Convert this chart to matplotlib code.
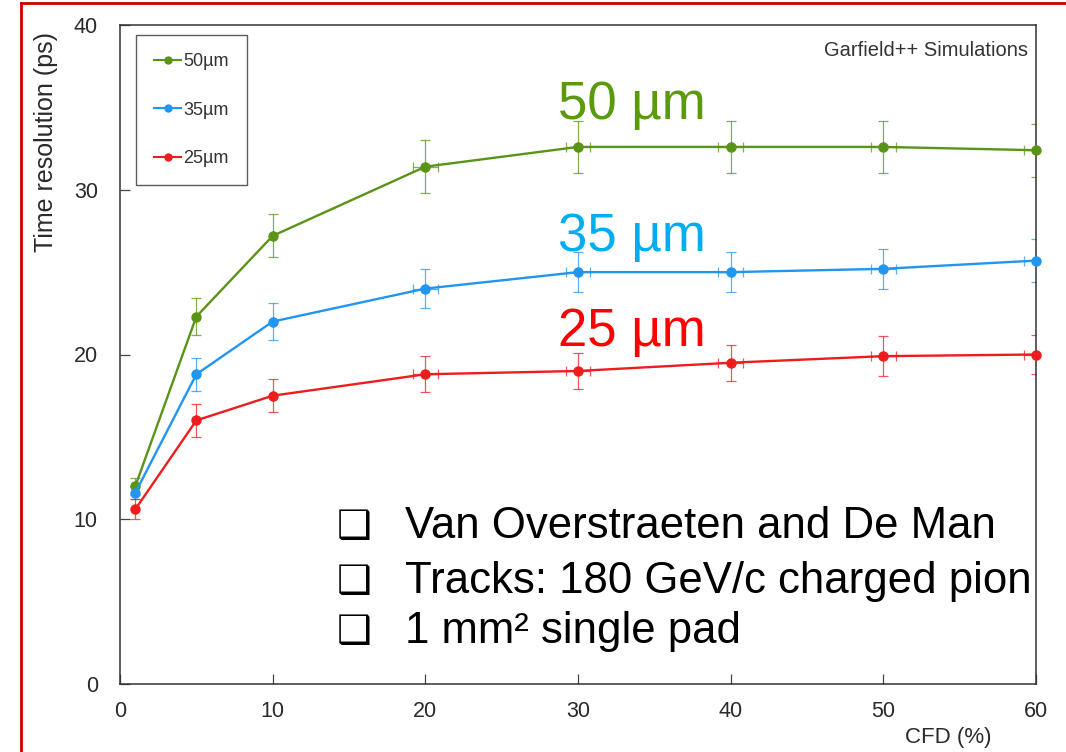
import matplotlib
matplotlib.use("Agg")
import matplotlib.pyplot as plt
from matplotlib.lines import Line2D

plt.rcParams['font.family'] = ['Liberation Sans', 'DejaVu Sans']

# CFD threshold (%)
cfd = [1, 5, 10, 20, 30, 40, 50, 60]

# Time resolution (ps) per sensor thickness
res_50 = [12.0, 22.3, 27.2, 31.4, 32.6, 32.6, 32.6, 32.4]
err_50 = [0.5, 1.1, 1.3, 1.6, 1.6, 1.6, 1.6, 1.6]
res_35 = [11.6, 18.8, 22.0, 24.0, 25.0, 25.0, 25.2, 25.7]
err_35 = [0.4, 1.0, 1.1, 1.2, 1.2, 1.2, 1.2, 1.3]
res_25 = [10.6, 16.0, 17.5, 18.8, 19.0, 19.5, 19.9, 20.0]
err_25 = [0.6, 1.0, 1.0, 1.1, 1.1, 1.1, 1.2, 1.2]
xerr = [0, 0, 0, 0.8, 0.8, 0.8, 0.8, 0.8]

labels = ['50µm', '35µm', '25µm']
big_labels = ['50 µm', '35 µm', '25 µm']
line_colors = ['#5a9416', '#2196f0', '#ee1d1d']
text_colors = ['#5a9a0c', '#00aeef', '#ff0000']

x_ticks = [0, 10, 20, 30, 40, 50, 60]
y_ticks = [0, 10, 20, 30, 40]

bullets = ['Van Overstraeten and De Man',
           'Tracks: 180 GeV/c charged pion',
           '1 mm² single pad']

fig = plt.figure(figsize=(10.66, 7.52), dpi=100)
W, H = 1066, 752
ax = fig.add_axes([120 / W, 1 - 684 / H, 916 / W, 659 / H])

series = [(res_50, err_50), (res_35, err_35), (res_25, err_25)]
handles = []
for (vals, errs), lc, lab in zip(series, line_colors, labels):
    ax.errorbar(cfd, vals, yerr=errs, xerr=xerr, fmt='none', ecolor=lc,
                elinewidth=0.9, capsize=3.5, capthick=0.9, alpha=0.75, zorder=2)
    ax.plot(cfd, vals, '-o', color=lc, lw=1.7, ms=6.5, zorder=3,
            clip_on=False)
    handles.append(Line2D([], [], color=lc, lw=1.5, marker='o', ms=5, label=lab))

ax.set_xlim(0, 60)
ax.set_ylim(0, 40)
ax.set_xticks(x_ticks)
ax.set_yticks(y_ticks)
ax.tick_params(direction='in', length=7, width=0.9, color='#444444',
               labelsize=15.5, labelcolor='#2a2a2a')
ax.tick_params(axis='y', pad=16)
ax.tick_params(axis='x', pad=12)
for sp in ax.spines.values():
    sp.set_color('#333333')
    sp.set_linewidth(1.1)

leg = ax.legend(handles=handles, loc='upper left',
                bbox_to_anchor=(0.0175, 0.985), fontsize=13, numpoints=1,
                handlelength=1.5, handletextpad=0.1, labelspacing=1.75,
                borderpad=1.0, borderaxespad=0, fancybox=False,
                frameon=True, edgecolor='#333333', labelcolor='#333333')
leg.get_frame().set_linewidth(1.0)

ax.text(0.9915, 0.975, 'Garfield++ Simulations', transform=ax.transAxes,
        ha='right', va='top', fontsize=14.5, color='#333333')

# Large thickness labels over each curve
big_y = [105, 237, 332]
for lab, col, yp in zip(big_labels, text_colors, big_y):
    fig.text(558 / W, 1 - yp / H, lab, color=col, fontsize=38,
             ha='left', va='center')

# Bullet list
bullet_y = [527, 582, 632]
for txt, yp in zip(bullets, bullet_y):
    fig.text(337 / W, 1 - yp / H, '❑', fontsize=28, ha='left', va='center',
             color='black', family=['DejaVu Sans'])
    fig.text(405 / W, 1 - yp / H, txt, fontsize=31.5, ha='left', va='center',
             color='black')

# Axis titles
fig.text(46 / W, 1 - 142 / H, 'Time resolution (ps)', rotation=90,
         ha='center', va='center', fontsize=18, color='#2a2a2a')
fig.text(948 / W, 1 - 737 / H, 'CFD (%)', ha='center', va='center',
         fontsize=16, color='#2a2a2a')

# Red frame around the slide area
fig.add_artist(Line2D([21 / W, 1.0], [1 - 3 / H, 1 - 3 / H],
                      transform=fig.transFigure, color='#cc0000', lw=2))
fig.add_artist(Line2D([21 / W, 21 / W], [0, 1 - 3 / H],
                      transform=fig.transFigure, color='#cc0000', lw=2))

fig.savefig('out.png', dpi=100)
